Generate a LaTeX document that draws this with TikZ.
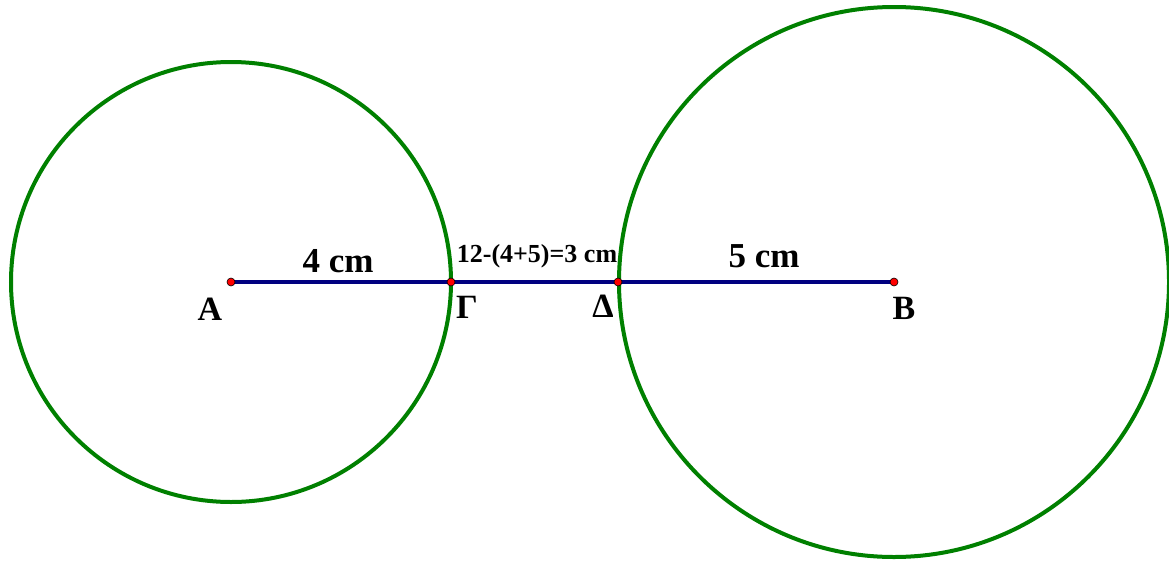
\documentclass[tikz,border=0pt]{standalone}
\usepackage{fontspec}
\setmainfont{Liberation Serif}
\begin{document}
\begin{tikzpicture}[x=1pt,y=-1pt,
  circ/.style={draw={rgb,255:red,0;green,128;blue,0}, line width=4pt},
  seg/.style={draw={rgb,255:red,0;green,0;blue,128}, line width=4pt},
  pt/.style={circle, fill=red, draw=black, line width=0.6pt, inner sep=0pt, minimum size=8pt},
  lbl/.style={font=\bfseries\fontsize{34}{36}\selectfont, anchor=base, inner sep=0pt},
  dim/.style={font=\bfseries\fontsize{35}{38}\selectfont, anchor=base, inner sep=0pt},
  small/.style={font=\bfseries\fontsize{26}{30}\selectfont, anchor=base, inner sep=0pt}]
\useasboundingbox (0,0) rectangle (1169,562);
\coordinate (A) at (231,282);
\coordinate (G) at (451,282);
\coordinate (D) at (618,282);
\coordinate (B) at (894,282);
\draw[circ] (A) circle[radius=220];
\draw[circ] (B) circle[radius=275];
\draw[seg] (A) -- (B);
\node[pt] (pA) at (A) {};
\node[pt] (pG) at (G) {};
\node[pt] (pD) at (D) {};
\node[pt] (pB) at (B) {};
\node[lbl] (lA) at (210,320) {A};
\node[lbl] (lG) at (467,318) {Γ};
\node[lbl] (lD) at (603,317) {Δ};
\node[lbl] (lB) at (904,319) {B};
\node[dim] (d4) at (338,272) {4 cm};
\node[dim] (d5) at (764,267) {5 cm};
\node[small] (d3) at (537,262) {12-(4+5)=3 cm};
\end{tikzpicture}
\end{document}
